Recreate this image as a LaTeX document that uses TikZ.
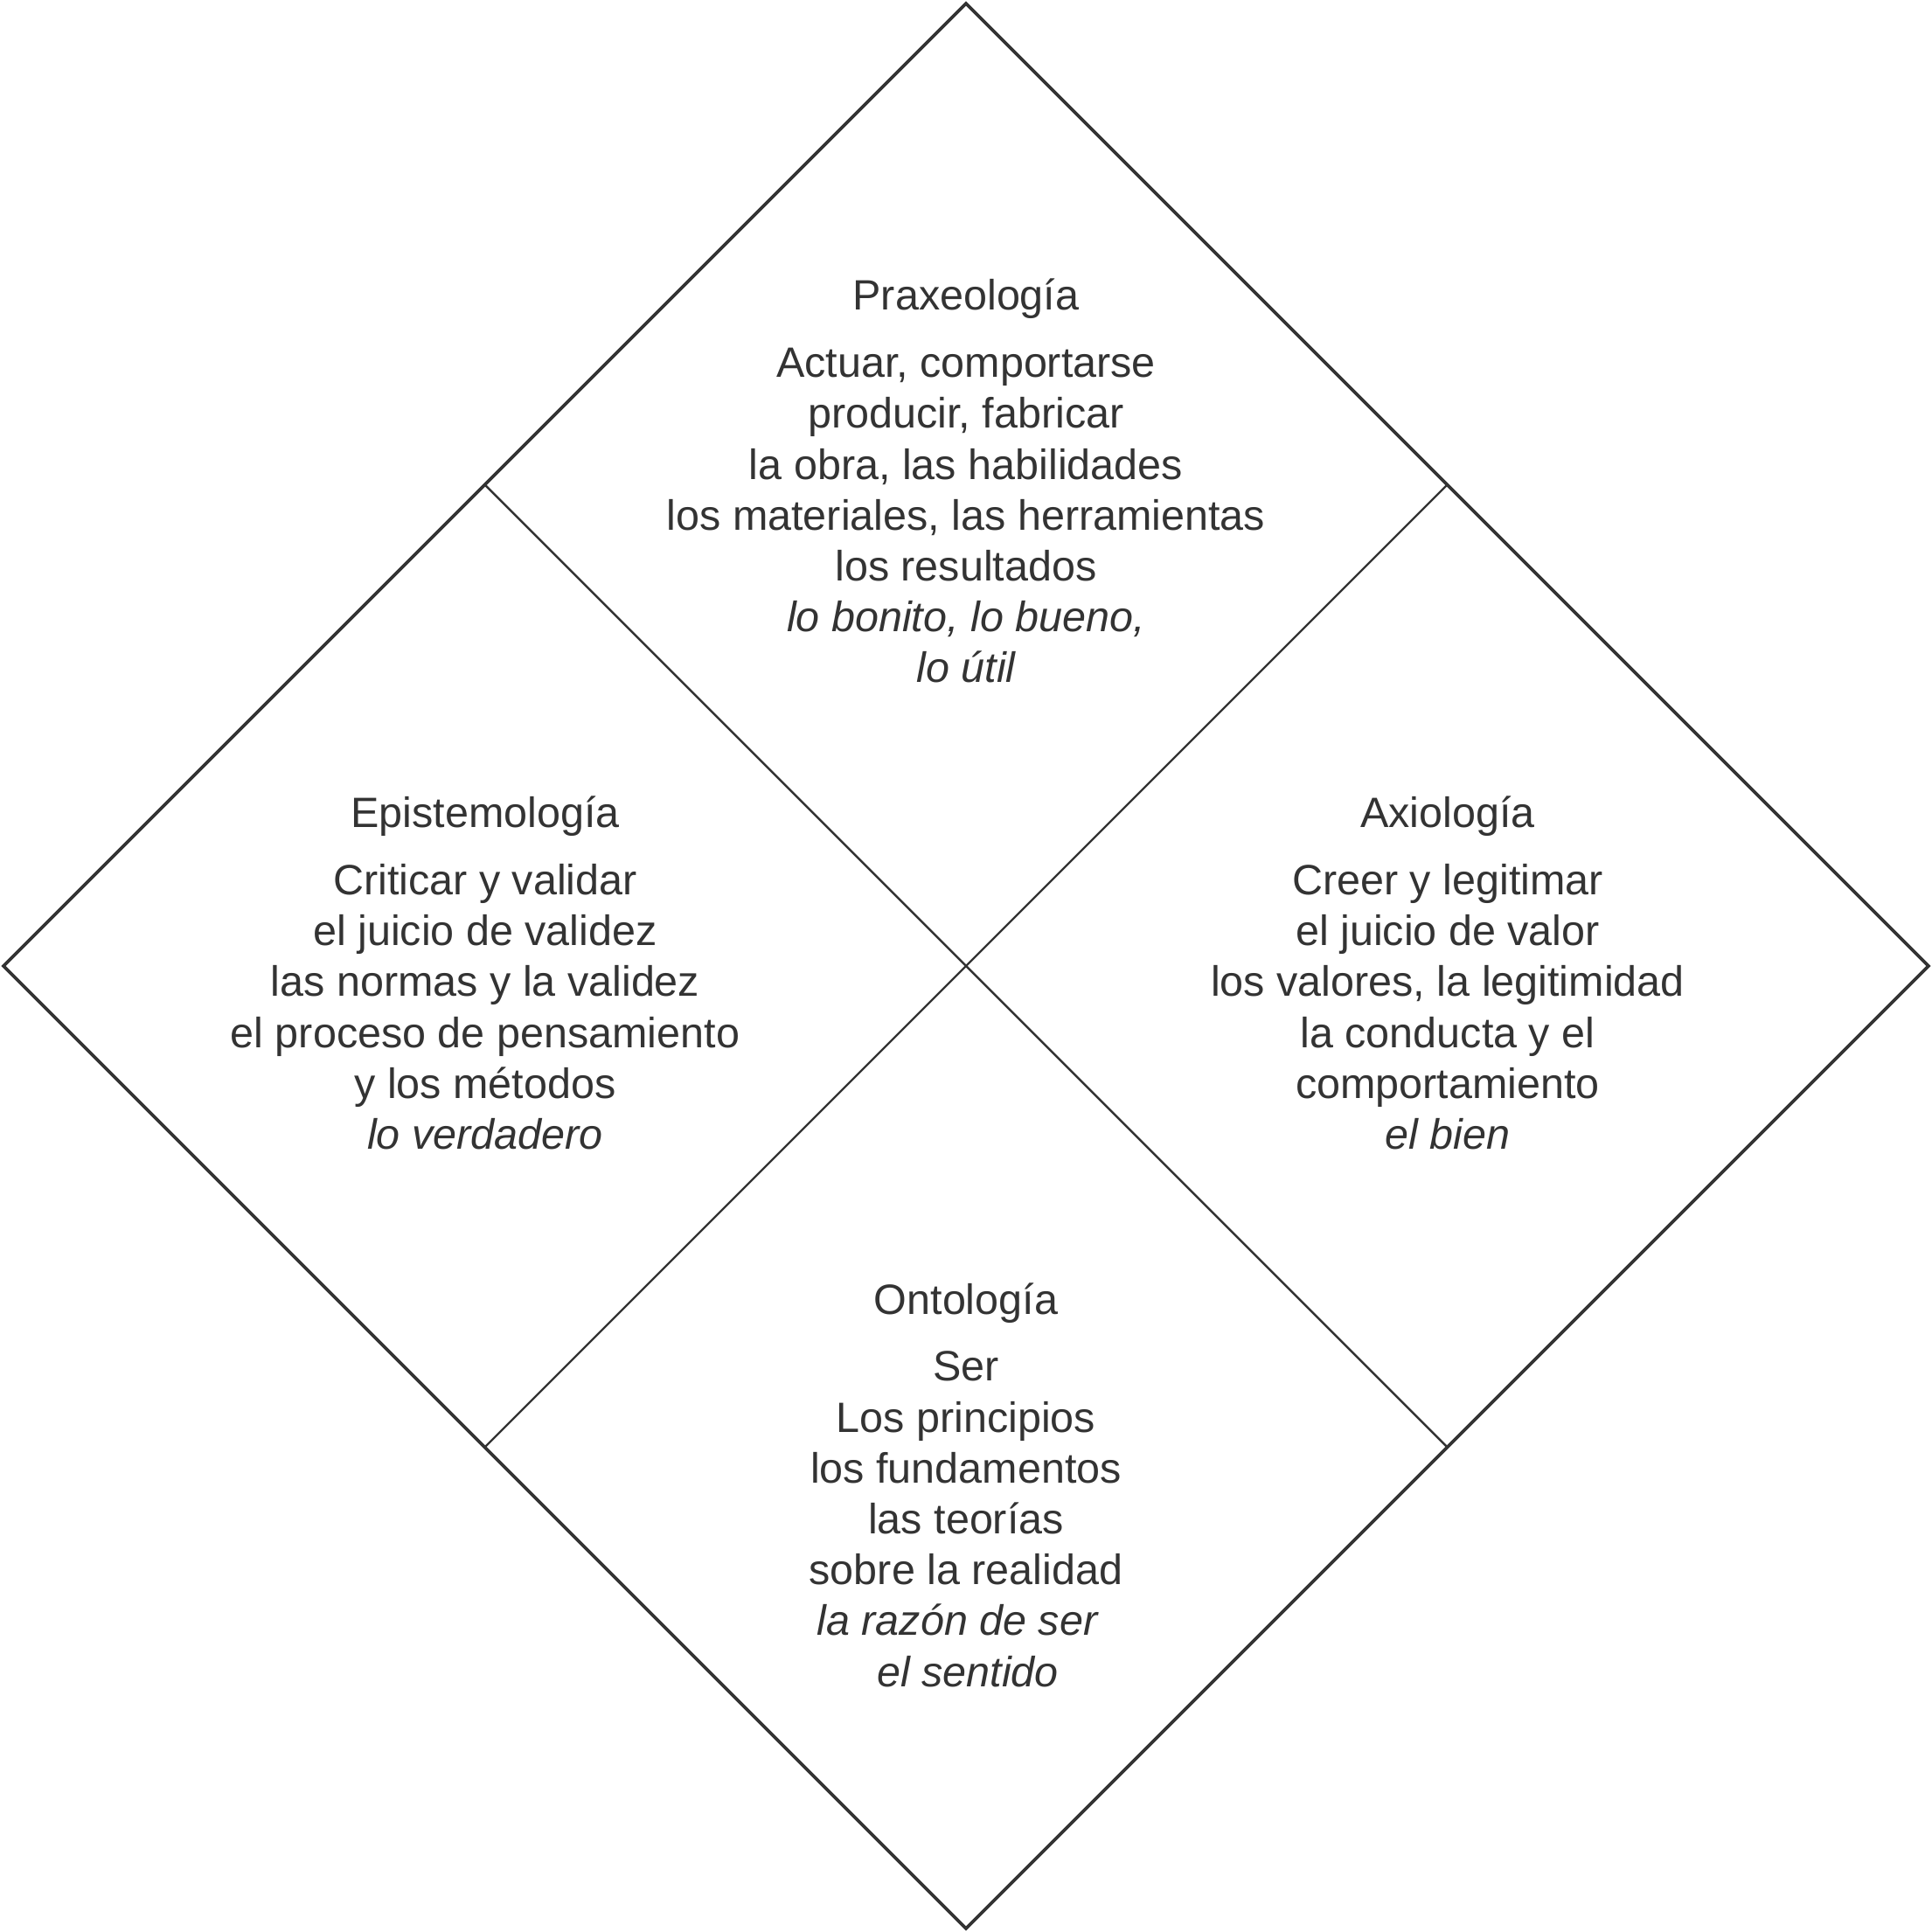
\documentclass[tikz,border=0pt]{standalone}
\usepackage{fontspec}
\setmainfont{Liberation Sans}
\definecolor{ink}{HTML}{333333}
\begin{document}
\begin{tikzpicture}[x=1cm,y=1cm,
  outer/.style={draw=ink, line width=1.05pt, line join=miter},
  divider/.style={draw=ink, line width=0.7pt},
  txt/.style={font=\fontsize{13.8}{16.56}\selectfont, text=ink, inner sep=0pt, anchor=base}]
\useasboundingbox (0,0) rectangle (22.10,22.10);
% outer diamond
\coordinate (T) at (11.05,22.06);
\coordinate (L) at (0.04,11.05);
\coordinate (R) at (22.06,11.05);
\coordinate (B) at (11.05,0.04);
\coordinate (TL) at (5.545,16.555);
\coordinate (TR) at (16.555,16.555);
\coordinate (BL) at (5.545,5.545);
\coordinate (BR) at (16.555,5.545);
\draw[outer] (T) -- (R) -- (B) -- (L) -- cycle;
\draw[divider] (TL) -- (BR);
\draw[divider] (TR) -- (BL);
% top: Praxeologia
\node[txt] (Ptitle) at (11.05,18.55) {Praxeología};
\foreach [count=\i] \t in {{Actuar, comportarse},{producir, fabricar},{la obra, las habilidades},{los materiales, las herramientas},{los resultados},{\itshape lo bonito, lo bueno,},{\itshape lo útil}}
  \node[txt] (P\i) at (11.05,{17.783-0.582*(\i-1)}) {\t};
% left: Epistemologia
\node[txt] (Etitle) at (5.55,12.63) {Epistemología};
\foreach [count=\i] \t in {{Criticar y validar},{el juicio de validez},{las normas y la validez},{el proceso de pensamiento},{y los métodos},{\itshape lo verdadero}}
  \node[txt] (E\i) at (5.55,{11.865-0.582*(\i-1)}) {\t};
% right: Axiologia
\node[txt] (Atitle) at (16.56,12.63) {Axiología};
\foreach [count=\i] \t in {{Creer y legitimar},{el juicio de valor},{los valores, la legitimidad},{la conducta y el},{comportamiento},{\itshape el bien}}
  \node[txt] (A\i) at (16.56,{11.865-0.582*(\i-1)}) {\t};
% bottom: Ontologia
\node[txt] (Otitle) at (11.05,7.06) {Ontología};
\foreach [count=\i] \t in {{Ser},{Los principios},{los fundamentos},{las teorías},{sobre la realidad}}
  \node[txt] (O\i) at (11.05,{6.30-0.582*(\i-1)}) {\t};
\node[txt] (O6) at (10.95,{6.30-0.582*5}) {\itshape la razón de ser};
\node[txt] (O7) at (11.07,{6.30-0.582*6}) {\itshape el sentido};
\end{tikzpicture}
\end{document}
